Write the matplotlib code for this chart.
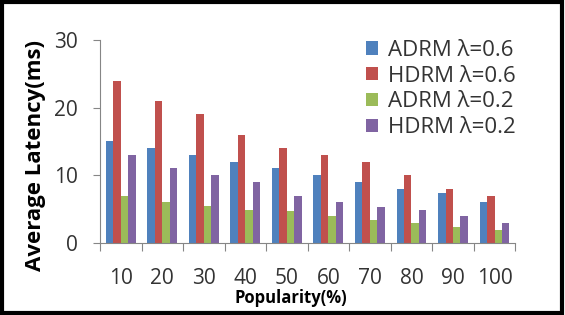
import numpy as np
import matplotlib
matplotlib.use("Agg")
import matplotlib.pyplot as plt
from matplotlib.patches import Rectangle

# data
popularity = ["10", "20", "30", "40", "50", "60", "70", "80", "90", "100"]
adrm_06 = [15, 14, 13, 12, 11, 10, 9, 8, 7.4, 6]
hdrm_06 = [24, 21, 19, 16, 14, 13, 12, 10, 8, 7]
adrm_02 = [7, 6, 5.4, 4.9, 4.7, 3.9, 3.4, 2.9, 2.4, 1.9]
hdrm_02 = [13, 11, 10, 9, 7, 6, 5.3, 4.9, 3.9, 2.9]

series = [adrm_06, hdrm_06, adrm_02, hdrm_02]
labels = ["ADRM λ=0.6", "HDRM λ=0.6", "ADRM λ=0.2", "HDRM λ=0.2"]
colors = ["#4F81BD", "#C0504D", "#9BBB59", "#8064A2"]

plt.rcParams['font.family'] = ['Open Sans', 'DejaVu Sans']

fig = plt.figure(figsize=(5.65, 3.15), dpi=100)
ax = fig.add_axes([0.177, 0.229, 0.735, 0.644])

x = np.arange(len(popularity))
w = 0.18
for i, (vals, lab, col) in enumerate(zip(series, labels, colors)):
    ax.bar(x + (i - 1.5) * w, vals, w, color=col, label=lab)

ax.set_xlim(-0.5, len(popularity) - 0.5)
ax.set_ylim(0, 30)
ax.set_yticks([0, 10, 20, 30])

# category boundaries as major ticks, labels on minor ticks at centres
ax.set_xticks(np.arange(-0.5, len(popularity), 1.0))
ax.set_xticklabels([])
ax.set_xticks(x, minor=True)
ax.set_xticklabels(popularity, minor=True)
ax.tick_params(axis='x', which='major', length=6, color='#868686', direction='out')
ax.tick_params(axis='x', which='minor', length=0, pad=18, labelsize=15, labelcolor='#333333')
ax.tick_params(axis='y', length=5, color='#868686', pad=11, labelsize=15, labelcolor='#333333')

for s in ['top', 'right']:
    ax.spines[s].set_visible(False)
for s in ['left', 'bottom']:
    ax.spines[s].set_color('#868686')

ax.set_ylabel("Average Latency(ms)", fontsize=16, fontweight='bold')
ax.yaxis.set_label_coords(-0.13, 0.43)
fig.text(0.515, 0.053, "Popularity(%)", fontsize=12, fontweight='bold',
         ha='center', va='center')

ax.legend(loc='upper right', bbox_to_anchor=(1.05, 1.1), frameon=False,
          fontsize=16, handlelength=0.55, handleheight=0.55, handletextpad=0.45,
          labelspacing=0.22, labelcolor='#333333')

fig.patches.append(Rectangle((0.003, 0.005), 0.992, 0.99, transform=fig.transFigure,
                             fill=False, edgecolor='black', linewidth=3))

fig.savefig("out.png", dpi=100)
